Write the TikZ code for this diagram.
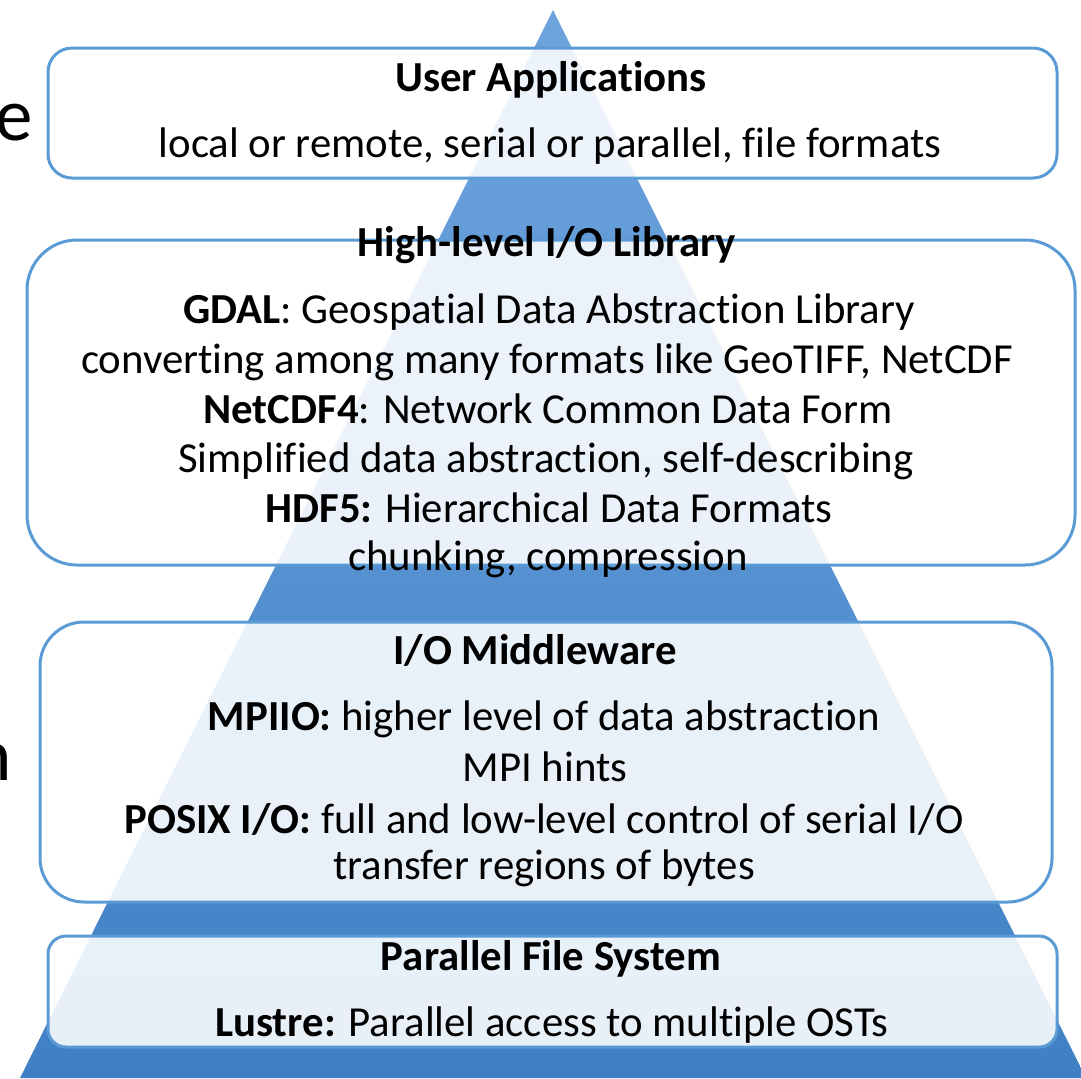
\documentclass[tikz,border=0pt]{standalone}
\usepackage{fontspec}
\setmainfont{Carlito}[Ligatures=NoCommon]
\definecolor{tritop}{RGB}{110,164,221}
\definecolor{tribot}{RGB}{63,128,196}
\definecolor{boxblue}{RGB}{91,155,213}
\tikzset{
  layerbox/.style={draw=boxblue, line width=1.5pt, fill=white, fill opacity=0.88, draw opacity=1, inner sep=0pt},
  txt/.style={anchor=base, inner sep=0pt, text=black, font=\fontsize{21.4}{26}\selectfont},
  bigtxt/.style={anchor=base east, inner sep=0pt, text=black, font=\fontsize{37.5}{45}\selectfont}
}
\begin{document}
\begin{tikzpicture}[x=0.5pt, y=-0.5pt]
\useasboundingbox (0,0) rectangle (1081,1078);
\fill[white] (0,0) rectangle (1081,1078);
% pyramid
\shade[top color=tritop, bottom color=tribot] (553,10) -- (20,1078) -- (1086,1078) -- cycle;
% boxes
\node[layerbox, rounded corners=12pt, minimum width=504.5pt, minimum height=65pt] (ua) at (552.5,113) {};
\node[layerbox, rounded corners=25pt, minimum width=524pt, minimum height=162.5pt] (hl) at (551,402.5) {};
\node[layerbox, rounded corners=22pt, minimum width=506pt, minimum height=140pt] (mw) at (546,762) {};
\node[layerbox, rounded corners=9pt, minimum width=504.5pt, minimum height=55.5pt] (pfs) at (552.5,991.5) {};
% fragments at left edge
\node[bigtxt] (frage) at (33,140) {e};
\node[bigtxt] (fragn) at (12,780) {n};
% User Applications
\node[txt] (uat) at (551,91) {\textbf{User Applications}};
\node[txt] (ua1) at (550,157) {local or remote, serial or parallel, file formats};
% High-level I/O library
\node[txt] (hlt) at (547,256) {\textbf{High-level I/O Library}};
\node[txt] (hl1) at (549,323) {\textbf{GDAL}: Geospatial Data Abstraction Library};
\node[txt] (hl2) at (547,373) {converting among many formats like GeoTIFF, NetCDF};
\node[txt] (hl3) at (548,423) {\textbf{NetCDF4}: Network Common Data Form};
\node[txt] (hl4) at (546,472) {Simplified data abstraction, self-describing};
\node[txt] (hl5) at (549,522) {\textbf{HDF5:} Hierarchical Data Formats};
\node[txt] (hl6) at (548,570) {chunking, compression};
% I/O Middleware
\node[txt] (mwt) at (535,664) {\textbf{I/O Middleware}};
\node[txt] (mw1) at (544,730) {\textbf{MPIIO:} higher level of data abstraction};
\node[txt] (mw2) at (545,781) {MPI hints};
\node[txt] (mw3) at (544,833) {\textbf{POSIX I/O:} full and low-level control of serial I/O};
\node[txt] (mw4) at (544,879) {transfer regions of bytes};
% Parallel File System
\node[txt] (pfst) at (551,970) {\textbf{Parallel File System}};
\node[txt] (pfs1) at (552,1036) {\textbf{Lustre:} Parallel access to multiple OSTs};
\end{tikzpicture}
\end{document}
